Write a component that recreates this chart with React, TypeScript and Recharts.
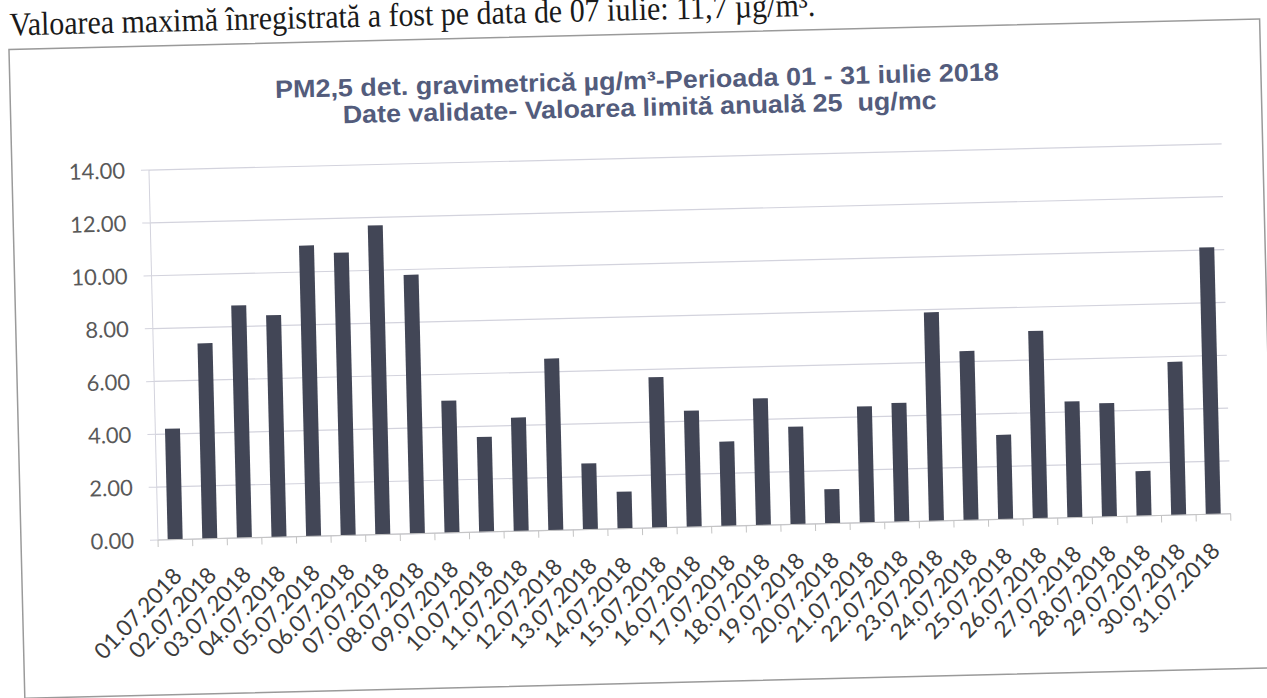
import { BarChart, Bar, XAxis, YAxis, CartesianGrid } from "recharts";

const dates = [
  "01.07.2018", "02.07.2018", "03.07.2018", "04.07.2018", "05.07.2018", "06.07.2018",
  "07.07.2018", "08.07.2018", "09.07.2018", "10.07.2018", "11.07.2018", "12.07.2018",
  "13.07.2018", "14.07.2018", "15.07.2018", "16.07.2018", "17.07.2018", "18.07.2018",
  "19.07.2018", "20.07.2018", "21.07.2018", "22.07.2018", "23.07.2018", "24.07.2018",
  "25.07.2018", "26.07.2018", "27.07.2018", "28.07.2018", "29.07.2018", "30.07.2018",
  "31.07.2018",
];

// PM2,5 daily values (µg/m³)
const pm25 = [
  4.2, 7.4, 8.8, 8.4, 11.0, 10.7, 11.7, 9.8, 5.0, 3.6, 4.3, 6.5, 2.5, 1.4, 5.7, 4.4,
  3.2, 4.8, 3.7, 1.3, 4.4, 4.5, 7.9, 6.4, 3.2, 7.1, 4.4, 4.3, 1.7, 5.8, 10.1,
];

const yTicks = [0, 2, 4, 6, 8, 10, 12, 14];

const headline = "Valoarea maximă înregistrată a fost pe data de 07 iulie: 11,7 µg/m³.";
const titleLine1 = "PM2,5 det. gravimetrică µg/m³-Perioada 01 - 31 iulie 2018";
const titleLine2 = "Date validate- Valoarea limită anuală 25  ug/mc";

const data = dates.map((d, i) => ({ date: d, value: pm25[i] }));

const W = 1267;
const H = 698;
const PLOT_LEFT = 158;
const PLOT_RIGHT = 1231;
const BAND = (PLOT_RIGHT - PLOT_LEFT) / dates.length;

const DateTick = (props: any) => {
  const { x, y, payload, index } = props;
  const tx = x + 7;
  const ty = y + 38;
  return (
    <g>
      <line x1={x - BAND / 2} x2={x - BAND / 2} y1={y} y2={y + 7} stroke="#c4c4c4" />
      {index === dates.length - 1 && (
        <line x1={x + BAND / 2} x2={x + BAND / 2} y1={y} y2={y + 7} stroke="#c4c4c4" />
      )}
      <text x={tx} y={ty} textAnchor="end" transform={`rotate(-45 ${tx} ${ty})`}
        fontSize={22.5} fill="#3c3c3c" fontFamily="Lato">
        {payload.value}
      </text>
    </g>
  );
};

export default function App() {
  return (
    <div style={{ position: "absolute", left: 0, top: 0, width: W, height: H, overflow: "hidden", background: "#fff" }}>
      <div style={{ position: "absolute", left: 0, top: 0, width: W, height: H, transform: "rotate(-1.4deg)", transformOrigin: "157px 540px" }}>
        <svg width={W + 40} height={H} style={{ position: "absolute", left: 0, top: 0 }}>
          <text x={22} y={32} fontFamily="'Liberation Serif', serif" fontSize={33} fill="#1a1a1a"
            textLength={806} lengthAdjust="spacingAndGlyphs">{headline}</text>
          <rect x={21} y={46} width={1251} height={649} fill="#fff" stroke="#9a9a9a" strokeWidth={1.5} />
          <text x={648} y={101} textAnchor="middle" fontFamily="'Liberation Sans', Arial" fontWeight="bold"
            fontSize={25} fill="#535c7c" textLength={724} lengthAdjust="spacingAndGlyphs" style={{ whiteSpace: "pre" }}>
            {titleLine1}
          </text>
          <text x={650} y={128} textAnchor="middle" fontFamily="'Liberation Sans', Arial" fontWeight="bold"
            fontSize={25} fill="#535c7c" textLength={594} lengthAdjust="spacingAndGlyphs" style={{ whiteSpace: "pre" }}>
            {titleLine2}
          </text>
        </svg>
        <div style={{ position: "absolute", left: 0, top: 0 }}>
          <BarChart width={W} height={H} data={data} margin={{ top: 170, right: W - PLOT_RIGHT, bottom: 8, left: 0 }}
            barCategoryGap="28%">
            <CartesianGrid vertical={false} stroke="#d3d3dd" strokeWidth={1.2} />
            <XAxis dataKey="date" interval={0} height={150} tickSize={0} tickMargin={0}
              axisLine={{ stroke: "#c4c4c4" }} tickLine={false} tick={<DateTick />} />
            <YAxis width={PLOT_LEFT} domain={[0, 14]} ticks={yTicks} interval={0}
              tickFormatter={(v: number) => v.toFixed(2)} tickSize={8} tickMargin={16}
              axisLine={{ stroke: "#d3d3dd" }} tickLine={{ stroke: "#d3d3dd" }}
              tick={{ fontSize: 22, fill: "#595959", fontFamily: "Lato" }} />
            <Bar dataKey="value" fill="#424656" isAnimationActive={false} />
          </BarChart>
        </div>
      </div>
    </div>
  );
}
